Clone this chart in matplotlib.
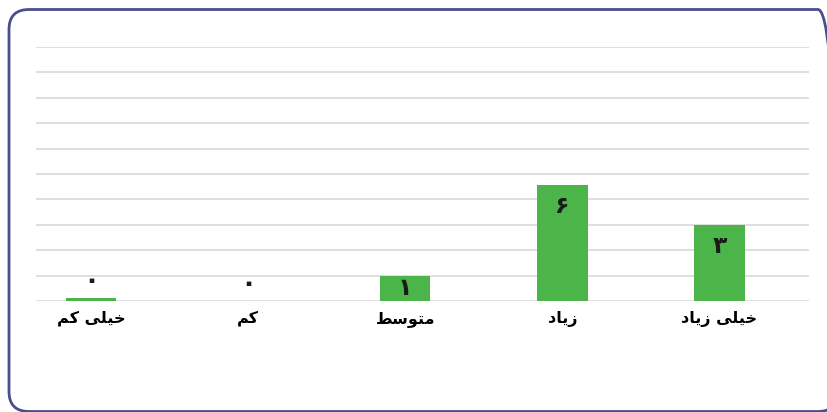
import matplotlib
matplotlib.use("Agg")
import matplotlib.pyplot as plt
from matplotlib.patches import FancyBboxPatch

# data
categories = ["خیلی کم", "کم", "متوسط", "زیاد", "خیلی زیاد"]
heights = [0.1, 0.0, 1.0, 4.55, 3.0]          # bar heights in grid units
value_labels = ["۰", "۰", "۱", "۶", "۳"]       # numbers printed on the chart

BAR_COLOR = "#4bb54a"
FRAME_COLOR = "#4a4e8c"
GRID_COLOR = "#d6d6d6"

# matplotlib does no Arabic shaping, so pick presentation forms by hand
# (isolated, final, initial, medial); None = letter never joins to the next one
FORMS = {
    "خ": ("\uFEA5", "\uFEA6", "\uFEA7", "\uFEA8"),
    "ی": ("\uFBFC", "\uFBFD", "\uFBFE", "\uFBFF"),
    "ل": ("\uFEDD", "\uFEDE", "\uFEDF", "\uFEE0"),
    "ک": ("\uFB8E", "\uFB8F", "\uFB90", "\uFB91"),
    "م": ("\uFEE1", "\uFEE2", "\uFEE3", "\uFEE4"),
    "ت": ("\uFE95", "\uFE96", "\uFE97", "\uFE98"),
    "س": ("\uFEB1", "\uFEB2", "\uFEB3", "\uFEB4"),
    "ط": ("\uFEC1", "\uFEC2", "\uFEC3", "\uFEC4"),
    "و": ("\uFEED", "\uFEEE", None, None),
    "ز": ("\uFEAF", "\uFEB0", None, None),
    "ا": ("\uFE8D", "\uFE8E", None, None),
    "د": ("\uFEA9", "\uFEAA", None, None),
}


def shape(text):
    out = []
    for i, ch in enumerate(text):
        if ch not in FORMS:
            out.append(ch)
            continue
        prev = text[i - 1] if i > 0 else None
        nxt = text[i + 1] if i + 1 < len(text) else None
        join_prev = prev in FORMS and FORMS[prev][2] is not None
        join_next = nxt in FORMS and FORMS[ch][2] is not None
        iso, fin, ini, med = FORMS[ch]
        if join_prev and join_next:
            out.append(med)
        elif join_prev:
            out.append(fin)
        elif join_next:
            out.append(ini)
        else:
            out.append(iso)
    return "".join(reversed(out))


fig = plt.figure(figsize=(8.28, 4.12), dpi=100)
ax = fig.add_axes([0.0435, 0.2694, 0.9336, 0.6165])

# rounded frame around the whole chart (runs off the right edge)
frame = FancyBboxPatch((0.09, 0.005), 8.29, 4.02,
                       boxstyle="round,pad=0,rounding_size=0.2",
                       transform=fig.dpi_scale_trans,
                       facecolor="none", edgecolor=FRAME_COLOR, linewidth=2.0,
                       clip_on=False)
fig.patches.append(frame)

x = list(range(len(categories)))
ax.bar(x, heights, width=0.32, color=BAR_COLOR, zorder=3)

ax.set_xlim(-0.35, 4.57)
ax.set_ylim(0, 10)

for xi, h, lab in zip(x, heights, value_labels):
    if h >= 0.5:
        # inside the bar, baseline near its top
        top_px = ax.transData.transform((0, h))[1] - ax.transData.transform((0, 0))[1]
        off = max(-28, -(top_px - 6))
        ax.annotate(lab, (xi, h), xytext=(0, off), textcoords="offset pixels",
                    ha="center", va="baseline", fontsize=17, fontweight="bold",
                    color="#1a1a1a", zorder=4)
    else:
        ax.annotate(lab, (xi, h), xytext=(0, 17), textcoords="offset pixels",
                    ha="center", va="center", fontsize=19, fontweight="bold",
                    color="#1a1a1a", zorder=4)

ax.set_yticks(range(0, 11))
ax.set_yticklabels([])
ax.grid(axis="y", color=GRID_COLOR, linewidth=1.1, zorder=0)
ax.set_xticks(x)
ax.set_xticklabels([shape(c) for c in categories], fontsize=11.5,
                   fontweight="bold", family="DejaVu Sans")
ax.tick_params(axis="both", length=0)
ax.tick_params(axis="x", pad=7)
for s in ax.spines.values():
    s.set_visible(False)

fig.savefig("out.png", dpi=100)
